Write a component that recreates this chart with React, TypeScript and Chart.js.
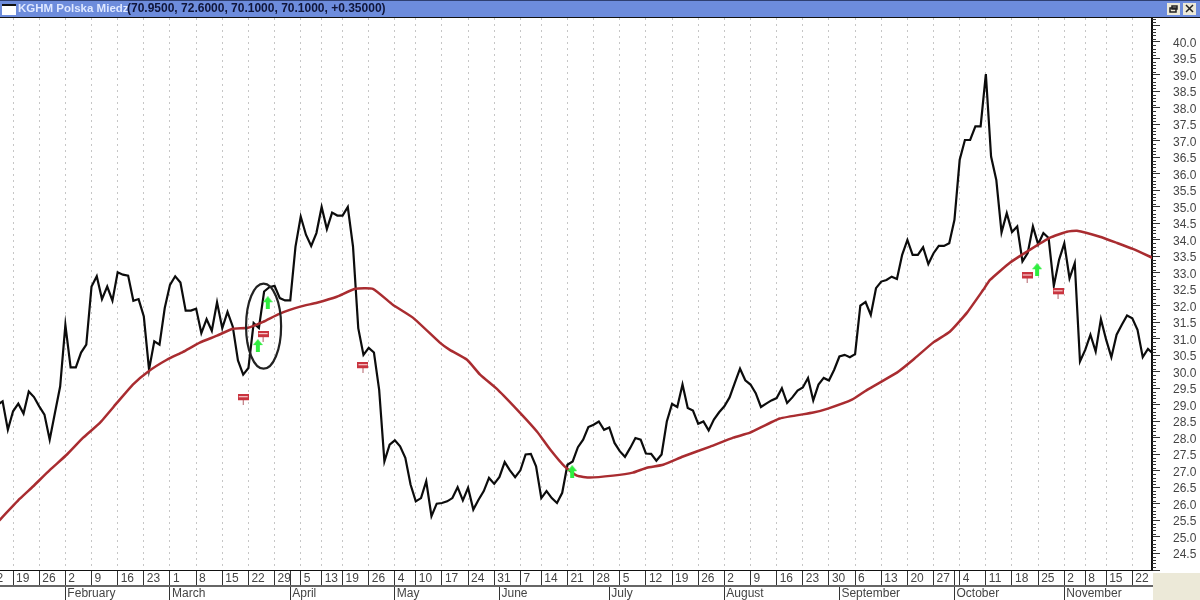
import { useEffect, useRef } from "react";
import Chart from "chart.js/auto";

const TITLE_NAME = "KGHM Polska Miedz";
const TITLE_QUOTE = "(70.9500, 72.6000, 70.1000, 70.1000, +0.35000)";

// first close sits one day left of the visible range
const FIRST_DAY = -1;
const closes = [
    29.0, 29.11, 28.25, 28.81, 29.04, 28.74, 29.41, 29.24, 28.96, 28.71,
    27.95, 28.76, 29.56, 31.43, 30.14, 30.14, 30.59, 30.83, 32.59, 32.9,
    32.21, 32.59, 32.16, 33.02, 32.95, 32.92, 32.16, 32.21, 31.68, 30.07,
    30.93, 30.83, 31.94, 32.64, 32.9, 32.71, 31.86, 31.86, 31.92, 31.18,
    31.6, 31.25, 32.11, 31.33, 31.82, 31.38, 30.35, 29.92, 30.12, 31.48,
    31.33, 32.44, 32.57, 32.61, 32.24, 32.17, 32.17, 33.8, 34.71, 34.16,
    33.82, 34.21, 35.0, 34.33, 34.83, 34.74, 34.74, 35.0, 33.8, 31.33,
    30.52, 30.73, 30.59, 29.46, 27.29, 27.8, 27.93, 27.75, 27.4, 26.59,
    26.08, 26.18, 26.69, 25.63, 26.01, 26.03, 26.08, 26.18, 26.51, 26.11,
    26.49, 25.83, 26.13, 26.39, 26.79, 26.61, 26.82, 27.27, 27.02, 26.81,
    27.02, 27.5, 27.52, 27.14, 26.18, 26.39, 26.18, 26.03, 26.34, 27.19,
    27.29, 27.72, 27.95, 28.33, 28.4, 28.5, 28.25, 28.32, 27.85, 27.6,
    27.43, 27.7, 28.0, 27.95, 27.53, 27.52, 27.31, 27.5, 28.5, 29.03,
    28.94, 29.62, 28.91, 28.83, 28.43, 28.5, 28.23, 28.56, 28.78, 28.96,
    29.23, 29.67, 30.1, 29.75, 29.62, 29.36, 28.94, 29.04, 29.14, 29.21,
    29.51, 29.06, 29.23, 29.44, 29.53, 29.82, 29.14, 29.62, 29.82, 29.74,
    30.07, 30.47, 30.52, 30.45, 30.54, 32.01, 32.12, 31.73, 32.54, 32.74,
    32.79, 32.89, 32.82, 33.55, 34.0, 33.55, 33.55, 33.78, 33.27, 33.6,
    33.82, 33.82, 33.9, 34.61, 36.43, 37.03, 37.03, 37.44, 37.44, 39.03,
    36.53, 35.82, 34.23, 34.81, 34.24, 34.41, 33.35, 33.6, 34.41, 33.87,
    34.21, 34.06, 32.61, 33.4, 33.9, 32.84, 33.3, 30.32, 30.67, 31.13,
    30.62, 31.6, 30.98, 30.45, 31.13, 31.43, 31.71, 31.63, 31.28, 30.45,
    30.7, 30.55,
];

const maDays = [
    -1, 3.3, 5.8, 9.1, 12.3, 15.4, 18.6, 21.9, 24.9, 27.8, 31.4, 34.5, 37.7,
    41, 44, 46.9, 49.8, 53, 56.9, 60.1, 63.9, 67.4, 70.8, 74.6, 78.5, 83.6,
    85.5, 88.8, 91.3, 94.7, 98.9, 102.2, 104.7, 107.5, 109.8, 112.3, 116.7,
    120.5, 123.2, 126.3, 130.1, 135.3, 139.7, 142.9, 148.6, 155, 157.8, 162.4,
    165.3, 171, 174.1, 177.9, 181.1, 184.4, 187.5, 188.8, 192.6, 196.4, 200.3,
    203.5, 205.4, 209.8, 213.1, 216.1, 220,
];
const maValues = [
    25.44, 26.16, 26.53, 27.04, 27.5, 28.01, 28.46, 29.07, 29.62, 30.01, 30.37,
    30.61, 30.89, 31.1, 31.31, 31.34, 31.52, 31.77, 31.98, 32.1, 32.28, 32.52,
    32.52, 32.04, 31.64, 30.89, 30.67, 30.37, 29.92, 29.46, 28.77, 28.19, 27.65,
    27.13, 26.86, 26.8, 26.86, 26.95, 27.1, 27.19, 27.44, 27.74, 28.01, 28.16,
    28.59, 28.77, 28.89, 29.16, 29.46, 29.98, 30.37, 30.89, 31.22, 31.8, 32.49,
    32.79, 33.31, 33.7, 34.07, 34.25, 34.28, 34.1, 33.91, 33.73, 33.45,
];

const buyDays = [48.8, 50.7, 108.9, 197.8];
const buyValues = [30.8, 32.1, 26.98, 33.1];
const sellDays = [46, 49.8, 68.9, 195.9, 201.8];
const sellValues = [29.16, 31.07, 30.13, 32.85, 32.37];

const weekDays = [
    -3, 2, 7, 12, 17, 22, 27, 32, 37, 42, 47, 52, 57, 61, 65, 70, 75, 79, 84, 89,
    94, 99, 103, 108, 113, 118, 123, 128, 133, 138, 143, 148, 153, 158, 163, 168,
    173, 178, 183, 188, 193, 198, 203, 207, 211, 216,
];
const weekLabels = [
    "12", "19", "26", "2", "9", "16", "23", "1", "8", "15", "22", "29", "5", "13",
    "19", "26", "4", "10", "17", "24", "31", "7", "14", "21", "28", "5", "12", "19",
    "26", "2", "9", "16", "23", "30", "6", "13", "20", "27", "4", "11", "18", "25",
    "2", "8", "15", "22",
];
// April and October also cut through the row of week numbers
const unlabelledWeekRowDays = [55, 182];
const monthDays = [12, 32, 55, 75, 95, 116, 138, 160, 182, 203];
const monthLabels = [
    "February", "March", "April", "May", "June", "July", "August", "September",
    "October", "November",
];

const priceTicks = [
    24, 24.5, 25, 25.5, 26, 26.5, 27, 27.5, 28, 28.5, 29, 29.5, 30, 30.5, 31, 31.5,
    32, 32.5, 33, 33.5, 34, 34.5, 35, 35.5, 36, 36.5, 37, 37.5, 38, 38.5, 39, 39.5,
    40, 40.5,
];
const FIRST_LABELLED = 24.5;
const LAST_LABELLED = 40;
const MINOR_PER_MAJOR = 5;

const AXIS_FONT = "Liberation Sans";
const PANEL_BLUE = "#6d8cdc";
const PANEL_BEIGE = "#ece9d8";

function makeArrow() {
    const c = document.createElement("canvas");
    c.width = 10;
    c.height = 13;
    const g = c.getContext("2d")!;
    g.fillStyle = "#2fee3f";
    g.beginPath();
    g.moveTo(5, 0);
    g.lineTo(10, 6);
    g.lineTo(7, 6);
    g.lineTo(7, 13);
    g.lineTo(3, 13);
    g.lineTo(3, 6);
    g.lineTo(0, 6);
    g.closePath();
    g.fill();
    return c;
}

function makeFlag() {
    const c = document.createElement("canvas");
    c.width = 11;
    c.height = 11;
    const g = c.getContext("2d")!;
    g.fillStyle = "#c9343f";
    g.fillRect(0, 0, 11, 6);
    g.fillStyle = "#ffe9e9";
    g.fillRect(1, 2, 9, 1);
    g.fillStyle = "#b06068";
    g.fillRect(5, 6, 1, 5);
    return c;
}

// the overflowing first label must not push the plot away from the edge
const noScalePadding = (scale: any) => {
    scale.paddingLeft = 0;
    scale.paddingRight = 0;
    scale.paddingTop = 0;
    scale.paddingBottom = 0;
};

const framePlugin = {
    id: "frame",
    beforeDraw(chart: any) {
        const { ctx, width, height, chartArea } = chart;
        ctx.save();
        ctx.fillStyle = "#ffffff";
        ctx.fillRect(0, 0, width, height);
        ctx.fillStyle = PANEL_BEIGE;
        ctx.fillRect(chartArea.right + 1, chartArea.bottom + 3, width, height);
        ctx.restore();
    },
    afterDraw(chart: any) {
        const { ctx, width, chartArea, scales } = chart;
        ctx.save();

        // window title bar
        ctx.fillStyle = PANEL_BLUE;
        ctx.fillRect(0, 0, width, chartArea.top - 1);
        ctx.fillStyle = "#2f3f70";
        ctx.fillRect(0, 0, width, 1);
        ctx.fillStyle = "#111111";
        ctx.fillRect(0, chartArea.top - 1, width, 1);

        ctx.fillStyle = "#ffffff";
        ctx.fillRect(2, 5, 14, 10);
        ctx.fillStyle = "#111111";
        ctx.fillRect(2, 4, 14, 2);

        ctx.textBaseline = "middle";
        ctx.textAlign = "left";
        ctx.font = `bold 11.5px '${AXIS_FONT}'`;
        ctx.fillStyle = "#dfe8ff";
        ctx.fillText(TITLE_NAME, 18, 9);
        ctx.font = `bold 12px '${AXIS_FONT}'`;
        ctx.fillStyle = "#10163a";
        ctx.fillText(TITLE_QUOTE, 127, 9);

        [1167, 1183].forEach((x, i) => {
            ctx.fillStyle = PANEL_BEIGE;
            ctx.fillRect(x, 3, 13, 12);
            ctx.strokeStyle = "#222222";
            ctx.lineWidth = 1.5;
            ctx.beginPath();
            if (i === 0) {
                ctx.rect(x + 3, 8, 6, 4);
                ctx.rect(x + 5, 6, 5, 3);
            } else {
                ctx.moveTo(x + 3, 5);
                ctx.lineTo(x + 10, 12);
                ctx.moveTo(x + 10, 5);
                ctx.lineTo(x + 3, 12);
            }
            ctx.stroke();
        });

        // small ticks between the labelled ones on the price axis
        const y = scales.y;
        ctx.strokeStyle = "#333333";
        ctx.lineWidth = 1;
        ctx.beginPath();
        priceTicks.forEach((tick) => {
            for (let k = 1; k < MINOR_PER_MAJOR; k++) {
                const py = Math.round(y.getPixelForValue(tick + (k * 0.5) / MINOR_PER_MAJOR)) + 0.5;
                if (py < chartArea.top) continue;
                ctx.moveTo(chartArea.right, py);
                ctx.lineTo(chartArea.right + 4, py);
            }
        });
        ctx.stroke();
        ctx.restore();
    },
    afterDatasetsDraw(chart: any) {
        // hand drawn oval round the first two arrows
        const { ctx, scales } = chart;
        const cx = scales.x.getPixelForValue(49.9);
        const cy = scales.y.getPixelForValue(31.39);
        const rx = Math.abs(scales.x.getPixelForValue(53.25) - cx);
        const ry = Math.abs(scales.y.getPixelForValue(32.68) - cy);
        ctx.save();
        ctx.strokeStyle = "#222222";
        ctx.lineWidth = 2.2;
        ctx.beginPath();
        ctx.ellipse(cx, cy, rx, ry, 0, 0, Math.PI * 2);
        ctx.stroke();
        ctx.restore();
    },
};

const App = () => {
    const canvasRef = useRef<HTMLCanvasElement | null>(null);

    useEffect(() => {
        if (!canvasRef.current) return;

        const arrow = makeArrow();
        const flag = makeFlag();
        const allXTicks = [...weekDays, ...unlabelledWeekRowDays].sort((a, b) => a - b);

        const chart = new Chart(canvasRef.current, {
            type: "line",
            data: {
                datasets: [
                    {
                        data: closes.map((c, i) => ({ x: i + FIRST_DAY, y: c })),
                        borderColor: "#0c0c0c",
                        borderWidth: 2.2,
                        pointRadius: 0,
                        tension: 0,
                        order: 3,
                    },
                    {
                        data: maDays.map((d, i) => ({ x: d, y: maValues[i] })),
                        borderColor: "#a92c30",
                        borderWidth: 2.5,
                        pointRadius: 0,
                        tension: 0.15,
                        order: 2,
                    },
                    {
                        data: buyDays.map((d, i) => ({ x: d, y: buyValues[i] })),
                        showLine: false,
                        pointStyle: arrow,
                        pointRadius: 6,
                        order: 1,
                    },
                    {
                        data: sellDays.map((d, i) => ({ x: d, y: sellValues[i] })),
                        showLine: false,
                        pointStyle: flag,
                        pointRadius: 6,
                        order: 1,
                    },
                ],
            },
            options: {
                responsive: false,
                animation: false,
                events: [],
                layout: { autoPadding: false, padding: { top: 18, left: 0, right: 0, bottom: 0 } },
                plugins: {
                    legend: { display: false },
                    tooltip: { enabled: false },
                },
                scales: {
                    x: {
                        type: "linear",
                        position: "bottom",
                        weight: 0,
                        min: -0.5,
                        max: 219.77,
                        afterBuildTicks: (scale: any) => {
                            scale.ticks = allXTicks.map((value) => ({ value }));
                        },
                        afterFit: (scale: any) => {
                            scale.height = 16;
                            noScalePadding(scale);
                        },
                        border: { color: "#111111", width: 1, dash: [2, 4] },
                        grid: {
                            color: (ctx: any) =>
                                weekDays.includes(ctx.tick?.value) ? "#c6c6c6" : "transparent",
                            lineWidth: 1,
                            tickLength: 16,
                            tickColor: "#333333",
                            tickBorderDash: [],
                        },
                        ticks: {
                            autoSkip: false,
                            maxRotation: 0,
                            minRotation: 0,
                            align: "start",
                            labelOffset: 3,
                            padding: -15,
                            color: "#444444",
                            font: { family: AXIS_FONT, size: 12 },
                            callback: (value: any) => {
                                const i = weekDays.indexOf(value);
                                return i < 0 ? "" : weekLabels[i];
                            },
                        },
                    },
                    months: {
                        type: "linear",
                        position: "bottom",
                        weight: 1,
                        min: -0.5,
                        max: 219.77,
                        afterBuildTicks: (scale: any) => {
                            scale.ticks = monthDays.map((value) => ({ value }));
                        },
                        afterFit: (scale: any) => {
                            scale.height = 14;
                            noScalePadding(scale);
                        },
                        border: { color: "#666666", width: 2 },
                        grid: {
                            drawOnChartArea: false,
                            tickLength: 14,
                            tickColor: "#333333",
                        },
                        ticks: {
                            autoSkip: false,
                            maxRotation: 0,
                            minRotation: 0,
                            align: "start",
                            labelOffset: 2,
                            padding: -14,
                            color: "#444444",
                            font: { family: AXIS_FONT, size: 12 },
                            callback: (value: any) => monthLabels[monthDays.indexOf(value)],
                        },
                    },
                    y: {
                        type: "linear",
                        position: "right",
                        min: 24,
                        max: 40.727,
                        afterBuildTicks: (scale: any) => {
                            scale.ticks = priceTicks.map((value) => ({ value }));
                        },
                        afterFit: (scale: any) => {
                            scale.width = 48;
                            noScalePadding(scale);
                        },
                        border: { color: "#111111", width: 2 },
                        grid: {
                            drawOnChartArea: false,
                            tickLength: 8,
                            tickColor: "#333333",
                        },
                        ticks: {
                            autoSkip: false,
                            padding: 13,
                            labelOffset: 1.5,
                            color: "#444444",
                            font: { family: AXIS_FONT, size: 12 },
                            callback: (value: any) =>
                                value < FIRST_LABELLED || value > LAST_LABELLED
                                    ? ""
                                    : Number(value).toFixed(1),
                        },
                    },
                },
            },
            plugins: [framePlugin],
        } as any);

        return () => {
            chart.destroy();
        };
    }, []);

    return (
        <div style={{ position: "fixed", left: 0, top: 0, width: 1200, height: 600 }}>
            <canvas ref={canvasRef} width={1200} height={600} style={{ display: "block" }}></canvas>
        </div>
    );
};

export default App;
